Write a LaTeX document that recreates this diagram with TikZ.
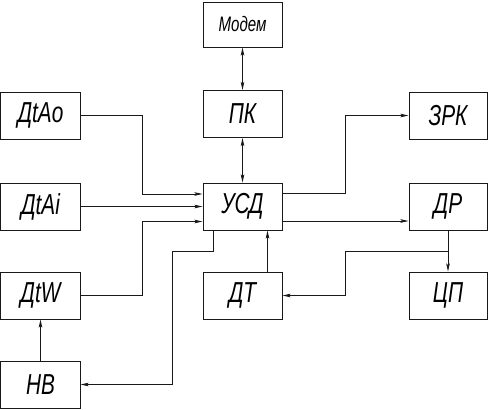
\documentclass[tikz,border=0pt]{standalone}
\usepackage{fontspec}
\newfontfamily\gost[FakeStretch=0.72]{Liberation Sans}
\usetikzlibrary{calc,arrows.meta}

\begin{document}
\begin{tikzpicture}[
        x=1bp, y=-1bp,
        link/.style={line width=0.8bp, draw=black!90},
        tip/.style={-{Stealth[length=8bp,width=3.5bp,inset=1.5bp]}},
        bitip/.style={{Stealth[length=8bp,width=3.5bp,inset=1.5bp]}-{Stealth[length=8bp,width=3.5bp,inset=1.5bp]}},
    ]
    \useasboundingbox (0,0) rectangle (488,409);
    % blocks of the scheme
    \tikzstyle{blk}=[draw=black!90, line width=1bp, minimum width=79bp, minimum height=47bp, inner sep=0, font=\gost\itshape\fontsize{29}{29}\selectfont]
    \node[blk] (USD) at (242.5,206.5) {УСД};
    \node[blk] (PK) at ($(USD)+(0,-92.5)$) {ПК};
    \node[blk, minimum height=45bp, font=\gost\itshape\fontsize{21}{21}\selectfont] (Modem) at ($(PK)+(0,-89.5)$) {Модем};
    \node[blk] (DT) at ($(USD)+(0,89)$) {ДТ};
    \node[blk] (DtAi) at ($(USD)+(-202,0)$) {ДtAi};
    \node[blk] (DtAo) at ($(DtAi)+(0,-91)$) {ДtAo};
    \node[blk] (DtW) at ($(DtAi)+(0,89)$) {ДtW};
    \node[blk] (HB) at ($(DtW)+(0,89)$) {НВ};
    \node[blk, minimum width=78bp] (DR) at ($(USD)+(205.5,0)$) {ДР};
    \node[blk, minimum width=78bp] (ZRK) at ($(DR)+(0,-91)$) {ЗРК};
    \node[blk, minimum width=78bp] (CP) at ($(DR)+(0,89)$) {ЦП};
    % links
    \draw[link, bitip] (Modem) -- (PK);
    \draw[link, bitip] (PK) -- (USD);
    \draw[link, tip] (DtAo.east) -- ++(62,0) |- ($(USD.west)+(0,-12.5)$);
    \draw[link, tip] (DtAi) -- (USD);
    \draw[link, tip] (DtW.east) -- ++(62,0) |- ($(USD.west)+(0,15)$);
    \draw[link, tip] (HB) -- (DtW);
    \draw[link, tip] ([xshift=-29.5bp]USD.south) -- ++(0,21) -| ($(HB.east)+(92,0)$) -- (HB.east);
    \draw[link, tip] ([xshift=25bp]DT.north) -- ([xshift=25bp]USD.south);
    \draw[link, tip] ($(USD.east)+(0,-13.5)$) -- ++(63,0) |- (ZRK);
    \draw[link, tip] ($(USD.east)+(0,14.5)$) -- ($(DR.west)+(0,14.5)$);
    \draw[link, tip] (DR) -- (CP);
    \coordinate (split) at ($(DR.south)!0.5!(CP.north)$);
    \draw[link, tip] (split) -- ++(-103,0) |- (DT);
\end{tikzpicture}
\end{document}
